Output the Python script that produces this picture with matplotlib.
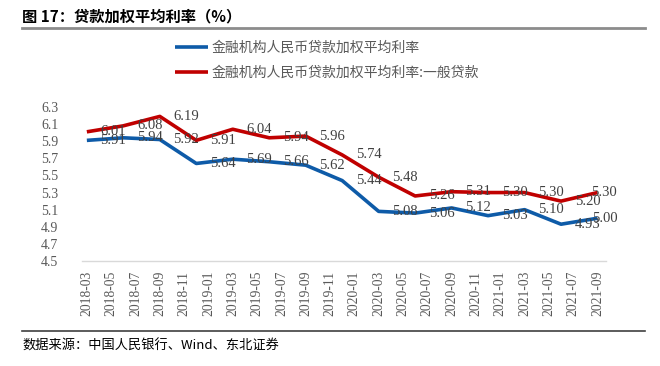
import matplotlib
matplotlib.use('Agg')
import matplotlib.pyplot as plt
from matplotlib.lines import Line2D

# quarterly data, months counted from 2018-03
quarters = ['2018-03', '2018-06', '2018-09', '2018-12', '2019-03', '2019-06', '2019-09', '2019-12',
            '2020-03', '2020-06', '2020-09', '2020-12', '2021-03', '2021-06', '2021-09']
rate_all = [5.91, 5.94, 5.92, 5.64, 5.69, 5.66, 5.62, 5.44, 5.08, 5.06, 5.12, 5.03, 5.10, 4.93, 5.00]
rate_general = [6.01, 6.08, 6.19, 5.91, 6.04, 5.94, 5.96, 5.74, 5.48, 5.26, 5.31, 5.30, 5.30, 5.20, 5.30]
tick_labels = ['2018-03', '2018-05', '2018-07', '2018-09', '2018-11',
               '2019-01', '2019-03', '2019-05', '2019-07', '2019-09', '2019-11',
               '2020-01', '2020-03', '2020-05', '2020-07', '2020-09', '2020-11',
               '2021-01', '2021-03', '2021-05', '2021-07', '2021-09']
series_names = ['金融机构人民币贷款加权平均利率', '金融机构人民币贷款加权平均利率:一般贷款']

cjk = ['Noto Sans CJK SC', 'DejaVu Sans']
serif = 'Liberation Serif'
gray = '#595959'
blue = '#0E5BA8'
red = '#C00000'

def month_index(s):
    y, m = s.split('-')
    return (int(y) - 2018) * 12 + int(m) - 3

xq = [month_index(q) for q in quarters]
xt = [month_index(t) for t in tick_labels]

fig = plt.figure(figsize=(6.6, 3.66), dpi=100)
ax = fig.add_axes([82 / 660, 1 - 261 / 366, (606 - 82) / 660, (261 - 107) / 366])

l1, = ax.plot(xq, rate_all, color=blue, lw=2.6, solid_capstyle='butt')
l2, = ax.plot(xq, rate_general, color=red, lw=2.6, solid_capstyle='butt')

# labels sit to the right of each point; the last one is pulled back inside the plot
for ys in [rate_all, rate_general]:
    for i, (x, y) in enumerate(zip(xq, ys)):
        dx = 19 if i < len(xq) - 1 else 5
        ax.annotate(f'{y:.2f}', (x, y), xytext=(dx, 0), textcoords='offset points',
                    ha='center', va='center', fontsize=10.5, family=serif, color='#404040')

ax.set_xlim(-0.4, 42.7)
ax.set_ylim(4.5, 6.3)
ax.set_yticks([4.5 + 0.2 * i for i in range(10)])
ax.set_yticklabels([f'{4.5 + 0.2 * i:.1f}' for i in range(10)], family=serif, fontsize=10, color=gray)
ax.set_xticks(xt)
ax.set_xticklabels(tick_labels, rotation=90, family=serif, fontsize=9.8, color=gray)
ax.tick_params(length=0)
ax.tick_params(axis='y', pad=17)
ax.tick_params(axis='x', pad=7)
for side in ['top', 'right', 'left']:
    ax.spines[side].set_visible(False)
ax.spines['bottom'].set_color('#D9D9D9')
ax.spines['bottom'].set_linewidth(1)

leg = fig.legend([l1, l2], series_names, loc='upper left', bbox_to_anchor=(175 / 660, 1 - 41 / 366),
                 frameon=False, borderpad=0, borderaxespad=0, handlelength=2.4, handletextpad=0.25,
                 labelspacing=0.75, prop={'family': cjk, 'size': 10})
for t in leg.get_texts():
    t.set_color(gray)
for h in leg.legend_handles:
    h.set_linewidth(2.6)

fig.text(22 / 660, 1 - 16 / 366, '图 17：贷款加权平均利率（%）', family=cjk, fontsize=11,
         fontweight='bold', va='center', ha='left', color='black')
fig.add_artist(Line2D([22 / 660, 645 / 660], [1 - 28 / 366] * 2, color='#8C8C8C', lw=2))
fig.add_artist(Line2D([22 / 660, 645 / 660], [1 - 331 / 366] * 2, color='#404040', lw=1.2))
fig.text(22 / 660, 1 - 346 / 366, '数据来源：中国人民银行、Wind、东北证券', family=cjk, fontsize=9.5,
         va='center', ha='left', color='black')

fig.savefig('out.png', dpi=100)
